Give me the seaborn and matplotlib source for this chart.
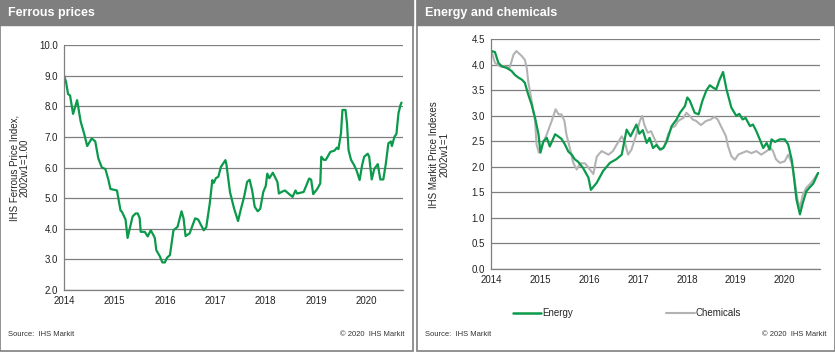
import pandas as pd
import seaborn as sns
import matplotlib.pyplot as plt
from matplotlib.patches import Rectangle
from matplotlib.lines import Line2D

# ---- data (decimal years) ----
ferrous_years = [2014.0, 2014.04, 2014.08, 2014.12, 2014.18, 2014.26, 2014.33, 2014.40, 2014.46, 2014.55,
                 2014.62, 2014.68, 2014.75, 2014.82, 2014.88, 2014.92, 2015.05, 2015.12, 2015.15, 2015.22,
                 2015.26, 2015.36, 2015.42, 2015.46, 2015.5, 2015.52, 2015.6, 2015.66, 2015.72, 2015.77,
                 2015.80, 2015.83, 2015.9, 2015.95, 2016.0, 2016.04, 2016.1, 2016.17, 2016.25, 2016.33,
                 2016.37, 2016.41, 2016.49, 2016.6, 2016.66, 2016.77, 2016.82, 2016.89, 2016.94, 2016.97,
                 2017.01, 2017.06, 2017.11, 2017.2, 2017.22, 2017.29, 2017.37, 2017.45, 2017.5, 2017.57,
                 2017.63, 2017.68, 2017.73, 2017.78, 2017.84, 2017.89, 2017.95, 2018.0, 2018.03, 2018.07,
                 2018.14, 2018.23, 2018.26, 2018.31, 2018.38, 2018.45, 2018.53, 2018.59, 2018.62, 2018.75,
                 2018.86, 2018.9, 2018.94, 2019.02, 2019.08, 2019.1, 2019.15, 2019.19, 2019.28, 2019.36,
                 2019.41, 2019.44, 2019.49, 2019.52, 2019.58, 2019.61, 2019.64, 2019.69, 2019.75, 2019.8,
                 2019.86, 2019.91, 2019.95, 2020.02, 2020.05, 2020.1, 2020.15, 2020.22, 2020.27, 2020.33,
                 2020.38, 2020.43, 2020.48, 2020.5, 2020.55, 2020.59, 2020.63, 2020.67, 2020.69]
ferrous_values = [9.0, 8.8, 8.4, 8.35, 7.75, 8.2, 7.5, 7.1, 6.7, 6.95,
                  6.85, 6.3, 6.0, 5.95, 5.6, 5.3, 5.25, 4.6, 4.55, 4.3,
                  3.7, 4.4, 4.5, 4.5, 4.35, 3.9, 3.9, 3.75, 3.95, 3.8,
                  3.7, 3.3, 3.1, 2.9, 2.9, 3.05, 3.14, 3.95, 4.06, 4.57,
                  4.34, 3.76, 3.85, 4.34, 4.3, 3.95, 4.05, 4.83, 5.59, 5.5,
                  5.65, 5.7, 6.02, 6.24, 6.1, 5.2, 4.67, 4.25, 4.6, 5.04,
                  5.53, 5.6, 5.25, 4.72, 4.57, 4.65, 5.2, 5.4, 5.8, 5.65,
                  5.83, 5.53, 5.15, 5.2, 5.25, 5.15, 5.04, 5.25, 5.15, 5.2,
                  5.64, 5.6, 5.13, 5.3, 5.48, 6.35, 6.25, 6.25, 6.51, 6.55,
                  6.65, 6.6, 7.11, 7.88, 7.88, 7.44, 6.57, 6.25, 6.08, 5.9,
                  5.59, 6.08, 6.35, 6.45, 6.35, 5.61, 5.95, 6.11, 5.61, 5.61,
                  6.13, 6.79, 6.85, 6.7, 7.0, 7.1, 7.77, 8.04, 8.12]

energy_years = [2014.01, 2014.08, 2014.15, 2014.22, 2014.32, 2014.42, 2014.49, 2014.56, 2014.63, 2014.69,
                2014.76, 2014.83, 2014.9, 2014.97, 2015.01, 2015.07, 2015.14, 2015.2, 2015.31, 2015.37,
                2015.44, 2015.51, 2015.58, 2015.65, 2015.71, 2015.78, 2015.88, 2015.99, 2016.04, 2016.1,
                2016.16, 2016.29, 2016.43, 2016.56, 2016.67, 2016.77, 2016.85, 2016.97, 2017.03, 2017.1,
                2017.18, 2017.24, 2017.31, 2017.38, 2017.45, 2017.52, 2017.59, 2017.69, 2017.79, 2017.86,
                2017.96, 2018.01, 2018.06, 2018.16, 2018.24, 2018.32, 2018.4, 2018.47, 2018.54, 2018.6,
                2018.67, 2018.74, 2018.81, 2018.91, 2019.01, 2019.07, 2019.14, 2019.2, 2019.29, 2019.35,
                2019.42, 2019.49, 2019.56, 2019.63, 2019.69, 2019.73, 2019.8, 2019.9, 2020.0, 2020.07,
                2020.14, 2020.17, 2020.24, 2020.31, 2020.37, 2020.44, 2020.51, 2020.58, 2020.61, 2020.68]
energy_values = [4.27, 4.25, 4.04, 3.97, 3.94, 3.88, 3.8, 3.75, 3.71, 3.65,
                 3.42, 3.22, 2.96, 2.64, 2.28, 2.5, 2.57, 2.4, 2.64, 2.6,
                 2.55, 2.44, 2.3, 2.24, 2.15, 2.1, 1.98, 1.79, 1.55, 1.62,
                 1.69, 1.92, 2.08, 2.15, 2.24, 2.73, 2.6, 2.83, 2.65, 2.72,
                 2.47, 2.57, 2.37, 2.43, 2.34, 2.37, 2.5, 2.8, 2.93, 3.06,
                 3.19, 3.36, 3.3, 3.06, 3.03, 3.3, 3.5, 3.6, 3.55, 3.52,
                 3.71, 3.86, 3.52, 3.16, 3.0, 3.04, 2.93, 2.96, 2.8, 2.83,
                 2.7, 2.54, 2.37, 2.47, 2.34, 2.54, 2.49, 2.54, 2.54, 2.44,
                 2.15, 1.95, 1.36, 1.07, 1.3, 1.52, 1.6, 1.67, 1.73, 1.88]

chem_years = [2014.01, 2014.08, 2014.18, 2014.28, 2014.38, 2014.46, 2014.52, 2014.63, 2014.69, 2014.73,
              2014.76, 2014.83, 2014.9, 2014.93, 2014.98, 2015.05, 2015.14, 2015.24, 2015.32, 2015.38,
              2015.44, 2015.5, 2015.54, 2015.61, 2015.68, 2015.75, 2015.82, 2015.92, 2016.02, 2016.09,
              2016.16, 2016.26, 2016.4, 2016.49, 2016.57, 2016.67, 2016.73, 2016.8, 2016.87, 2016.97,
              2017.04, 2017.09, 2017.13, 2017.2, 2017.27, 2017.33, 2017.41, 2017.48, 2017.54, 2017.62,
              2017.69, 2017.76, 2017.82, 2017.93, 2017.99, 2018.06, 2018.12, 2018.19, 2018.29, 2018.39,
              2018.49, 2018.56, 2018.63, 2018.68, 2018.8, 2018.84, 2018.91, 2018.98, 2019.05, 2019.12,
              2019.22, 2019.32, 2019.42, 2019.52, 2019.63, 2019.71, 2019.76, 2019.82, 2019.9, 2020.0,
              2020.07, 2020.14, 2020.2, 2020.26, 2020.31, 2020.37, 2020.44, 2020.54, 2020.61, 2020.68]
chem_values = [4.27, 4.04, 3.97, 3.97, 3.94, 4.2, 4.27, 4.17, 4.1, 3.94,
               3.68, 3.29, 2.9, 2.44, 2.28, 2.44, 2.64, 2.9, 3.13, 3.03,
               3.03, 2.9, 2.64, 2.37, 2.08, 1.95, 2.07, 2.07, 1.95, 1.86,
               2.2, 2.31, 2.24, 2.31, 2.44, 2.6, 2.5, 2.24, 2.34, 2.64,
               2.9, 3.0, 2.83, 2.67, 2.7, 2.57, 2.4, 2.34, 2.4, 2.64,
               2.77, 2.8, 2.9, 2.96, 3.06, 3.0, 2.93, 2.9, 2.82, 2.9,
               2.93, 2.98, 2.93, 2.83, 2.6, 2.41, 2.21, 2.14, 2.24, 2.27,
               2.31, 2.27, 2.31, 2.24, 2.31, 2.37, 2.31, 2.15, 2.08, 2.11,
               2.24, 2.08, 1.75, 1.36, 1.2, 1.46, 1.59, 1.69, 1.78, 1.88]

year_ticks = [2014, 2015, 2016, 2017, 2018, 2019, 2020]

GREEN = '#0b9a4b'
GREY = '#b3b3b3'
FRAME = '#7f7f7f'

sns.set_style('white')
plt.rcParams['font.family'] = ['Liberation Sans', 'DejaVu Sans']

W, H = 835, 354
fig = plt.figure(figsize=(W / 100, H / 100), dpi=100)


def px_rect(x0, y0, x1, y1):
    # convert pixel box (top-left origin) to figure fraction [l, b, w, h]
    return [x0 / W, 1 - y1 / H, (x1 - x0) / W, (y1 - y0) / H]


def panel(x0, x1, title):
    l, b, w, h = px_rect(x0, 0, x1, 351)
    fig.patches.append(Rectangle((l, b), w, h, transform=fig.transFigure,
                                 fill=False, edgecolor=FRAME, lw=1.2))
    l, b, w, h = px_rect(x0, 0, x1, 25)
    fig.patches.append(Rectangle((l, b), w, h, transform=fig.transFigure,
                                 facecolor=FRAME, edgecolor=FRAME))
    fig.text((x0 + 8) / W, 1 - 13 / H, title, color='white', fontsize=9,
             fontweight='bold', va='center', ha='left')
    fig.text((x0 + 8) / W, 1 - 334 / H, 'Source:  IHS Markit', fontsize=5.5,
             color='#333333', va='center', ha='left')
    fig.text((x1 - 8) / W, 1 - 334 / H, '\u00a9 2020  IHS Markit', fontsize=5.5,
             color='#333333', va='center', ha='right')


def style_axes(ax, ylim, yticks):
    ax.set_xlim(2014, 2020.72)
    ax.set_ylim(*ylim)
    ax.set_xticks(year_ticks)
    ax.set_xticklabels([str(y) for y in year_ticks])
    ax.set_yticks(yticks)
    ax.set_yticklabels([f'{v:.1f}' for v in yticks])
    ax.yaxis.grid(True, color=FRAME, lw=0.9)
    ax.xaxis.grid(False)
    for s in ['top', 'right']:
        ax.spines[s].set_visible(False)
    for s in ['left', 'bottom']:
        ax.spines[s].set_color(FRAME)
        ax.spines[s].set_linewidth(0.9)
    ax.tick_params(axis='both', labelsize=7, colors='#222222', length=3,
                   width=0.8, color=FRAME, direction='out', pad=1.5)
    ax.set_xlabel('')


panel(0, 413, 'Ferrous prices')
panel(417, 835, 'Energy and chemicals')

# left chart
ferrous = pd.DataFrame({'year': ferrous_years, 'value': ferrous_values})
ax1 = fig.add_axes(px_rect(64, 45, 403, 290))
sns.lineplot(data=ferrous, x='year', y='value', ax=ax1, color=GREEN, lw=1.6)
style_axes(ax1, (2.0, 10.0), [2.0, 3.0, 4.0, 5.0, 6.0, 7.0, 8.0, 9.0, 10.0])
ax1.set_ylabel('IHS Ferrous Price Index,\n2002w1=1.00', fontsize=7, labelpad=7,
               linespacing=1.0)

# right chart
idx = pd.concat([
    pd.DataFrame({'year': chem_years, 'value': chem_values, 'series': 'Chemicals'}),
    pd.DataFrame({'year': energy_years, 'value': energy_values, 'series': 'Energy'}),
])
ax2 = fig.add_axes(px_rect(491, 39.3, 820, 269))
sns.lineplot(data=idx, x='year', y='value', hue='series', ax=ax2,
             palette={'Chemicals': GREY, 'Energy': GREEN}, lw=1.5, legend=False)
for line in ax2.get_lines():
    if line.get_color() == GREEN:
        line.set_linewidth(1.6)
style_axes(ax2, (0.0, 4.5), [0.0, 0.5, 1.0, 1.5, 2.0, 2.5, 3.0, 3.5, 4.0, 4.5])
ax2.set_ylabel('IHS Markit Price Indexes\n2002w1=1', fontsize=7, labelpad=16,
               linespacing=1.0)

handles = [Line2D([], [], color=GREEN, lw=1.8), Line2D([], [], color=GREY, lw=1.5)]
fig.legend(handles, ['Energy', 'Chemicals'], loc='center',
           bbox_to_anchor=(627 / W, 1 - 313 / H), ncol=2, frameon=False,
           fontsize=7, handlelength=2.9, handletextpad=0.1, columnspacing=9.6)

fig.savefig('out.png', dpi=100, facecolor='white')
